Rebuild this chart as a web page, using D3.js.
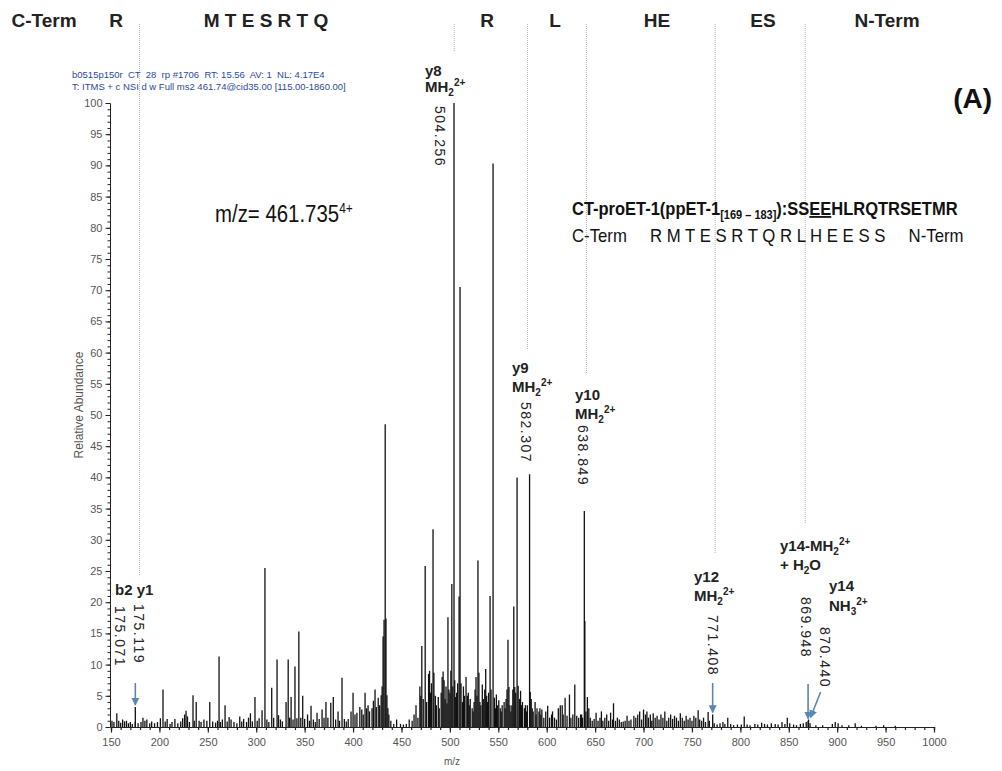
<!DOCTYPE html>
<html>
<head>
<meta charset="utf-8">
<script src="https://cdn.jsdelivr.net/npm/d3@7"></script>
<style>
  body { margin: 0; background: #fff; }
  text { font-family: "Liberation Sans Narrow", "Arial Narrow", "Liberation Sans", Arial, sans-serif; }
</style>
</head>
<body>
<svg id="chart" width="1002" height="771"></svg>
<script>
// ---- MS/MS spectrum: centroid peaks (m/z, relative abundance %) ----
const peakMz = [
  151, 153, 156, 158, 160, 162, 164, 166, 168, 170, 172, 175.071, 175.119, 178, 181, 183, 185, 187, 190, 192,
  195, 198, 201, 203.7, 206, 208, 211, 213, 216, 219, 222, 224, 226, 227.5, 229, 231, 234.7, 236, 238, 241,
  243, 246, 249, 252, 255, 258, 260, 261.6, 263, 265, 267.8, 270, 272, 274, 277, 280, 283, 285, 287, 290,
  292, 294, 296, 298.7, 301, 303, 306, 309, 311, 313, 316, 318, 321.5, 323, 325, 327, 330.8, 333, 334.5, 336,
  338, 340, 342, 344, 346, 348, 350, 353, 355, 356.6, 359, 361, 362.8, 365, 368, 370, 372, 374, 377, 379.6,
  382, 384.5, 386, 388.6, 391, 393, 395, 397.9, 400, 402, 404, 407, 409, 410.5, 412.4, 414, 415.5, 417, 419.6, 421,
  422.7, 424, 426, 427.5, 429, 430, 431, 432, 433.2, 434, 435, 436, 437, 439, 442, 445, 449, 452, 455, 458,
  461, 463, 465, 467, 469, 470, 471, 472.5, 474.5, 476, 478, 479, 480, 481, 482.6, 483.5, 485, 486, 488, 489,
  491, 492, 493, 494, 495, 496, 497, 498, 499, 500, 501, 502, 503, 504.256, 505, 506, 507, 508, 509.5, 510.5,
  511.5, 513, 514, 515, 516.7, 518, 519, 520, 521, 523, 524, 525, 526, 527, 528, 529, 530, 531, 532, 533.5,
  534.5, 536, 537, 538, 539, 540, 541.5, 542.5, 544.6, 546, 547, 548, 549, 550.5, 552, 553, 554, 556, 557, 558,
  559, 560, 561, 562, 563, 564, 565, 566, 567, 568, 569.4, 570.5, 572, 573, 574, 575, 577, 578, 579, 580,
  582.307, 583, 584, 585, 586, 588, 589, 590, 592, 593, 594, 595, 597, 599, 601, 603, 605, 606, 608, 610,
  612, 614, 616, 617, 619, 621, 623.5, 625, 627, 629, 631, 633, 635, 636, 637, 638.849, 639.4, 640.5, 642, 643.5,
  645, 647, 649, 651, 653, 655, 656.5, 658, 660, 662, 664, 666, 668, 669, 671, 673, 675, 677, 679, 681,
  683, 685, 687, 690, 692, 694, 696, 698, 700, 702, 703.5, 705, 707, 708.5, 710, 712, 714, 716, 718, 720,
  722, 724, 726, 728, 730, 732, 734, 736, 738, 740, 742, 744, 746, 748, 750, 752, 754, 756.4, 758, 760,
  762, 764, 766.7, 768, 771.408, 773, 776, 779, 782, 784, 787, 790, 793, 797, 801, 804, 807, 810, 815, 818,
  822, 825, 828, 832, 836, 839, 843, 846, 848.5, 851, 855, 858, 862, 865, 868, 869.948, 870.44, 872, 878, 885,
  895, 898, 901, 905, 912, 918.6, 925, 940, 948, 960
];
const peakIntensity = [
  1.0, 0.8, 2.2, 1.0, 0.7, 1.2, 0.9, 1.0, 0.6, 0.8, 0.5, 0.8, 3.2, 0.6, 0.8, 1.5, 1.0, 1.2, 0.6, 0.9,
  0.6, 0.8, 1.4, 6.0, 0.9, 1.3, 0.5, 0.8, 1.3, 0.6, 0.9, 1.4, 2.0, 2.6, 1.7, 0.8, 5.1, 1.0, 4.0, 1.0,
  0.8, 1.2, 1.0, 4.0, 0.9, 0.7, 1.0, 11.3, 0.8, 1.2, 3.5, 0.9, 1.6, 1.2, 0.8, 0.6, 1.7, 0.9, 1.3, 0.8,
  1.5, 2.2, 0.9, 4.8, 1.0, 1.4, 2.7, 25.5, 1.2, 0.8, 6.3, 1.5, 10.8, 1.9, 1.2, 0.9, 4.0, 10.8, 1.5, 4.8,
  1.2, 9.7, 1.4, 15.3, 1.5, 5.0, 1.3, 2.0, 1.0, 3.4, 1.2, 0.8, 2.3, 1.3, 2.8, 1.5, 4.0, 1.5, 3.9, 4.8,
  1.2, 2.5, 1.0, 7.9, 1.3, 0.9, 1.3, 2.5, 5.5, 2.0, 2.3, 3.2, 2.8, 2.0, 5.5, 3.0, 3.5, 2.5, 3.0, 4.2,
  6.0, 3.2, 4.7, 3.5, 5.1, 6.5, 14.5, 17.2, 48.5, 17.4, 5.1, 3.0, 2.0, 1.0, 0.5, 1.2, 0.5, 0.4, 0.5, 1.2,
  1.0, 2.0, 3.5, 1.5, 6.5, 5.0, 13.0, 4.5, 25.8, 4.0, 8.5, 9.0, 5.5, 7.0, 31.7, 8.7, 5.0, 3.5, 4.8, 3.0,
  5.5, 8.0, 8.9, 7.5, 4.5, 6.5, 3.8, 17.6, 6.0, 5.5, 9.0, 22.9, 6.5, 100, 7.5, 4.8, 5.5, 7.0, 20.9, 70.5,
  7.0, 4.0, 6.5, 5.0, 8.0, 5.0, 5.5, 3.5, 4.5, 3.0, 2.5, 4.0, 6.0, 8.0, 5.0, 26.7, 8.7, 4.0, 3.5, 6.8,
  4.5, 6.0, 9.3, 5.0, 4.0, 5.5, 21.0, 6.0, 90.3, 4.7, 3.0, 5.2, 3.5, 4.3, 3.0, 2.5, 3.5, 4.0, 3.0, 4.5,
  6.0, 14.0, 6.4, 3.5, 2.5, 3.5, 6.0, 19.3, 6.4, 5.5, 40.0, 6.6, 4.5, 5.8, 3.5, 4.0, 3.0, 3.5, 2.5, 3.5,
  40.5, 5.6, 4.5, 3.0, 2.5, 4.0, 2.0, 3.0, 2.5, 3.0, 2.0, 2.8, 1.5, 2.5, 3.4, 1.5, 2.0, 2.5, 1.5, 1.2,
  3.0, 3.5, 3.5, 2.0, 4.7, 1.8, 5.2, 1.5, 2.0, 6.8, 1.8, 1.5, 2.0, 2.0, 1.5, 34.6, 17.0, 2.5, 4.8, 3.0,
  1.5, 1.0, 1.3, 2.3, 1.0, 1.5, 2.5, 1.0, 1.5, 2.0, 1.0, 2.3, 1.2, 3.8, 1.0, 1.5, 1.2, 0.8, 0.9, 1.0,
  1.8, 1.0, 1.2, 1.8, 1.5, 2.0, 2.5, 1.2, 2.8, 2.0, 2.5, 1.5, 2.0, 1.0, 2.2, 1.5, 1.8, 1.2, 2.0, 1.5,
  2.5, 1.0, 1.5, 2.0, 1.3, 1.8, 1.5, 1.0, 2.2, 1.5, 1.0, 1.8, 1.2, 1.5, 1.0, 1.8, 1.5, 2.7, 1.2, 1.0,
  1.5, 0.8, 2.4, 1.0, 2.0, 0.6, 0.4, 0.6, 0.8, 0.5, 1.5, 0.5, 0.3, 0.4, 0.4, 1.7, 0.4, 0.3, 0.5, 0.4,
  0.7, 0.5, 0.4, 0.6, 0.5, 0.4, 0.8, 0.5, 1.5, 0.6, 0.4, 0.3, 0.5, 0.6, 0.8, 1.0, 1.2, 0.6, 0.3, 0.3,
  0.5, 0.8, 0.6, 0.3, 0.3, 0.6, 0.2, 0.2, 0.3, 0.2
];

// ---- axes ----
const xMajorTicks = d3.range(150, 1001, 50);
const xMinorTicks = d3.range(150, 1001, 10);
const yMajorTicks = d3.range(0, 101, 5);
const yMinorTicks = d3.range(0, 101, 1);

// ---- sequence ladder across the top (fragment boundaries in m/z) ----
const ladderLabels = ["C-Term", "R", "M T E S R T Q", "R", "L", "HE", "ES", "N-Term"];
const ladderCentres = [44, 116, 266, 487, 555, 657, 763, 887];
const cleavageMz = [179.5, 504.5, 580.2, 641, 774, 867];
const cleavageEnd = [575, 52, 350, 373, 553, 523];

// ---- annotated fragment ions ----
const ionValues = ["175.071", "175.119", "504.256", "582.307", "638.849", "771.408", "869.948", "870.440"];
const ionValueDx = [-15, 4, -14, -4, -1, 0, -2, 16];
const ionValueTop = [606, 604, 106, 402, 425, 615, 597, 627];

const ionNames = [
  { x: 115, y: 595, parts: [["b2 y1"]] },
  { x: 425, y: 76, parts: [["y8"]] },
  { x: 425, y: 92, parts: [["MH"], ["2", "sub"], ["2+", "sup"]] },
  { x: 512, y: 373, parts: [["y9"]] },
  { x: 512, y: 392, parts: [["MH"], ["2", "sub"], ["2+", "sup"]] },
  { x: 575, y: 400, parts: [["y10"]] },
  { x: 575, y: 419, parts: [["MH"], ["2", "sub"], ["2+", "sup"]] },
  { x: 694, y: 582, parts: [["y12"]] },
  { x: 694, y: 601, parts: [["MH"], ["2", "sub"], ["2+", "sup"]] },
  { x: 780, y: 551, parts: [["y14-MH"], ["2", "sub"], ["2+", "sup"]] },
  { x: 780, y: 570, parts: [["+ H"], ["2", "sub"], ["O"]] },
  { x: 829, y: 591, parts: [["y14"]] },
  { x: 829, y: 611, parts: [["NH"], ["3", "sub"], ["2+", "sup"]] }
];

// arrows pointing at low-abundance ions (tip sits just above the peak)
const arrowMz = [175.119, 771.408, 869.948, 870.44];
const arrowTail = [[0, 683], [0, 683], [0, 684], [12, 692]];

const svg = d3.select("#chart");
const x = d3.scaleLinear().domain([150, 1000]).range([111, 934]);
const y = d3.scaleLinear().domain([0, 100]).range([727, 103]);

// dotted cleavage guides
svg.append("g").selectAll("line").data(cleavageMz).join("line")
  .attr("x1", d => x(d)).attr("x2", d => x(d))
  .attr("y1", 24).attr("y2", (d, i) => cleavageEnd[i])
  .attr("stroke", "#b5b5b5").attr("stroke-width", 1).attr("stroke-dasharray", "1,1");

// peaks
const peaks = peakMz.map((m, i) => ({ mz: m, v: peakIntensity[i] }));
svg.append("g").selectAll("line").data(peaks).join("line")
  .attr("x1", d => x(d.mz)).attr("x2", d => x(d.mz))
  .attr("y1", y(0)).attr("y2", d => y(d.v))
  .attr("stroke", "#111").attr("stroke-width", 1.3);

// y axis
const yAxisG = svg.append("g").attr("transform", `translate(${x(150) - 1},0)`);
yAxisG.call(d3.axisLeft(y).tickValues(yMinorTicks).tickSize(2.5).tickFormat(""));
yAxisG.append("g").call(d3.axisLeft(y).tickValues(yMajorTicks).tickSize(4.5).tickFormat(d3.format("d")))
  .call(g => g.select(".domain").remove());
yAxisG.selectAll("text").attr("font-size", 11).attr("fill", "#555")
  .attr("font-family", "'Liberation Sans Narrow', 'Liberation Sans', sans-serif");
yAxisG.selectAll("line, path").attr("stroke", "#222");

// x axis
const xAxisG = svg.append("g").attr("transform", `translate(0,${y(0)})`);
xAxisG.call(d3.axisBottom(x).tickValues(xMinorTicks).tickSize(3).tickFormat(""));
xAxisG.append("g").call(d3.axisBottom(x).tickValues(xMajorTicks).tickSize(5.5).tickPadding(6).tickFormat(d3.format("d")))
  .call(g => g.select(".domain").remove());
xAxisG.selectAll("text").attr("font-size", 11).attr("fill", "#555")
  .attr("font-family", "'Liberation Sans Narrow', 'Liberation Sans', sans-serif");
xAxisG.selectAll("line, path").attr("stroke", "#222").attr("stroke-width", 1.2);

// axis titles
svg.append("text").attr("x", 452).attr("y", 765).attr("text-anchor", "middle")
  .attr("font-size", 10).attr("fill", "#555").text("m/z");
svg.append("text").attr("transform", "translate(83,405) rotate(-90)").attr("text-anchor", "middle")
  .attr("font-size", 12).attr("fill", "#555").text("Relative Abundance");

// scan header
svg.append("text").attr("x", 72).attr("y", 78).attr("font-size", 9.5).attr("fill", "#2c4a9a")
  .style("white-space", "pre").text("b0515p150r  CT  28  rp #1706  RT: 15.56  AV: 1  NL: 4.17E4");
svg.append("text").attr("x", 72).attr("y", 90).attr("font-size", 9.5).attr("fill", "#2c4a9a")
  .text("T: ITMS + c NSI d w Full ms2 461.74@cid35.00 [115.00-1860.00]");

// ladder
svg.append("g").selectAll("text").data(ladderLabels).join("text")
  .attr("x", (d, i) => ladderCentres[i]).attr("y", 27).attr("text-anchor", "middle")
  .attr("font-size", 19).attr("font-weight", "bold").attr("fill", "#222")
  .style("white-space", "pre").text(d => d);

// panel tag
svg.append("text").attr("x", 992).attr("y", 108).attr("text-anchor", "end")
  .attr("font-size", 28).attr("font-weight", "bold").attr("fill", "#111").text("(A)");

// precursor (condensed lettering)
const prec = svg.append("text").attr("transform", "translate(215,222) scale(0.85,1)")
  .attr("font-size", 24).attr("fill", "#111");
prec.append("tspan").text("m/z= 461.735");
prec.append("tspan").attr("dy", -9).attr("font-size", 14).text("4+");

// peptide sequence
const pep = svg.append("text").attr("transform", "translate(572,215) scale(0.915,1)").attr("font-size", 18)
  .attr("font-weight", "bold").attr("fill", "#111");
pep.append("tspan").text("CT-proET-1(ppET-1");
pep.append("tspan").attr("dy", 4).attr("font-size", 12).text("[169 – 183]");
pep.append("tspan").attr("dy", -4).text("):SS");
pep.append("tspan").attr("text-decoration", "underline").text("EE");
pep.append("tspan").text("HLRQTRSETMR");
svg.append("text").attr("transform", "translate(572,242) scale(0.93,1)").attr("font-size", 18).attr("fill", "#111")
  .style("white-space", "pre").text("C-Term     R M T E S R T Q R L H E E S S     N-Term");

// ion names
ionNames.forEach(lbl => {
  const t = svg.append("text").attr("x", lbl.x).attr("y", lbl.y).attr("font-size", 15)
    .attr("font-weight", "bold").attr("fill", "#222").style("white-space", "pre");
  let shift = 0;
  lbl.parts.forEach(([s, kind]) => {
    const target = kind === "sub" ? 4 : kind === "sup" ? -6 : 0;
    t.append("tspan").attr("dy", target - shift)
      .attr("font-size", kind ? 10 : 15).text(s);
    shift = target;
  });
});

// rotated m/z values
svg.append("g").selectAll("text").data(ionValues).join("text")
  .attr("transform", (d, i) => `translate(${x(+d) + ionValueDx[i]},${ionValueTop[i]}) rotate(90)`)
  .attr("dominant-baseline", "central").attr("font-size", 14).attr("letter-spacing", 1.5)
  .attr("fill", "#222").attr("font-family", "'Liberation Sans', Arial, sans-serif").text(d => d);

// arrows
const defs = svg.append("defs");
defs.append("marker").attr("id", "head").attr("viewBox", "0 0 10 10").attr("refX", 9).attr("refY", 5)
  .attr("markerWidth", 5).attr("markerHeight", 6).attr("orient", "auto-start-reverse")
  .append("path").attr("d", "M0,0L10,5L0,10z").attr("fill", "#5b86b3");
const peakAt = mz => peaks.find(p => p.mz === mz).v;
svg.append("g").selectAll("line").data(arrowMz).join("line")
  .attr("x1", (d, i) => x(d) + arrowTail[i][0]).attr("y1", (d, i) => arrowTail[i][1])
  .attr("x2", (d, i) => x(d) + (i === 3 ? 2 : 0)).attr("y2", d => y(peakAt(d)) - 2)
  .attr("stroke", "#5b86b3").attr("stroke-width", 1.6).attr("marker-end", "url(#head)");
</script>
</body>
</html>
